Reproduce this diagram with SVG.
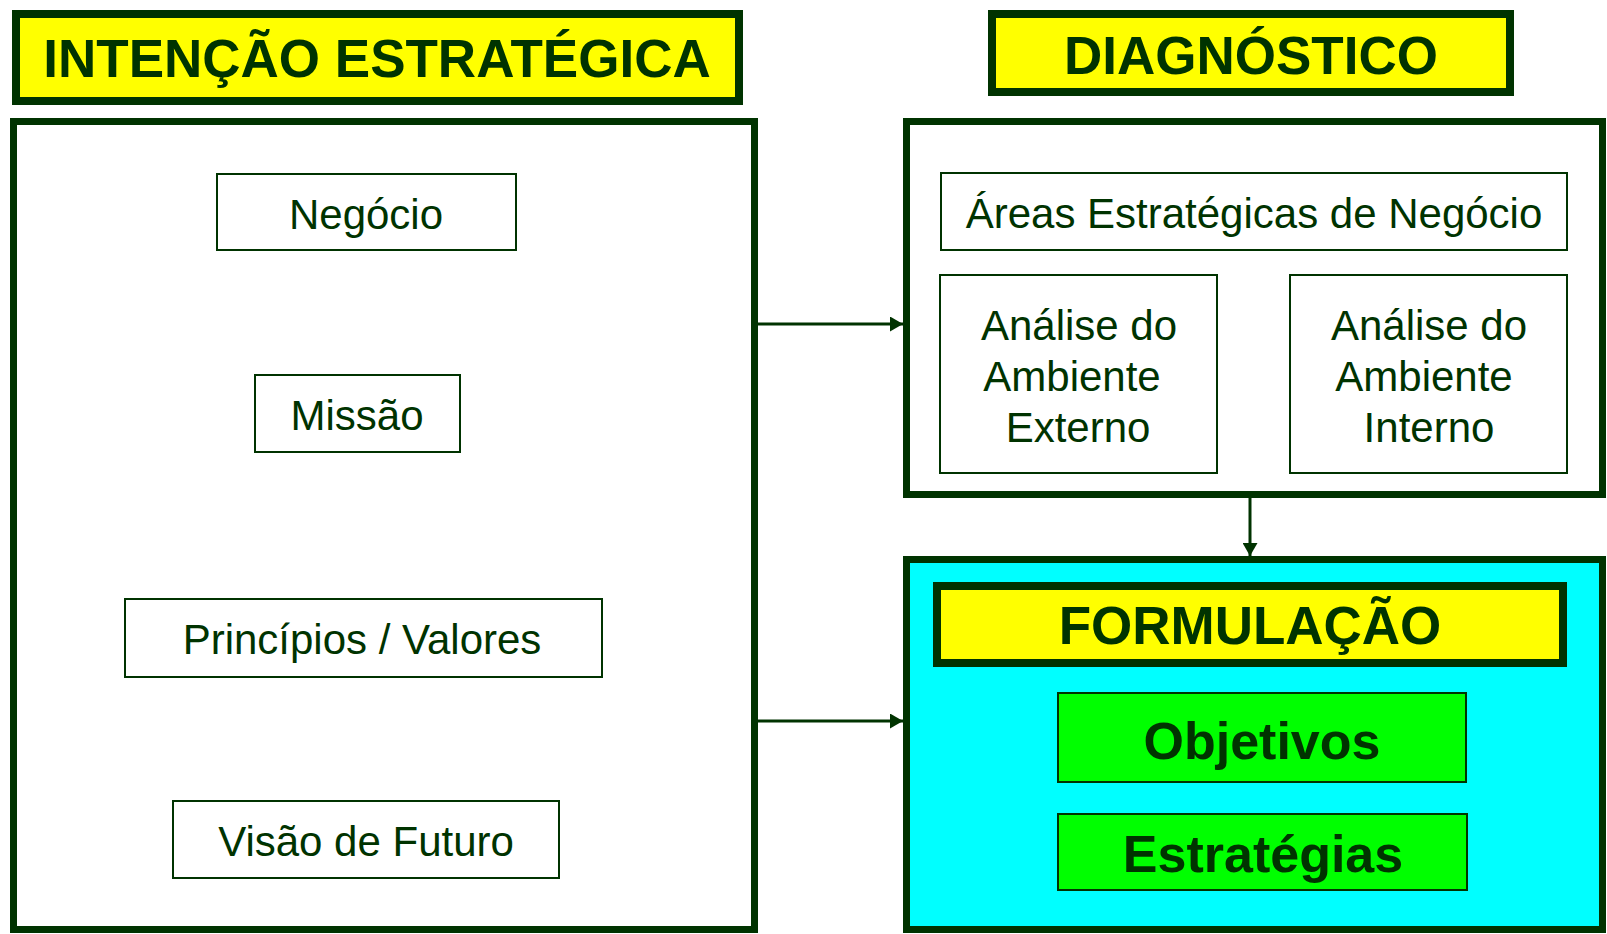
<svg xmlns="http://www.w3.org/2000/svg" width="1607" height="934" viewBox="0 0 1607 934">
<defs>
<style>
.thick{stroke:#003300;stroke-width:8;}
.frame{stroke:#003300;stroke-width:7;}
.thin{fill:#ffffff;stroke:#003300;stroke-width:2;}
.yellow{fill:#ffff00;}
.hdr{font-family:"Liberation Sans",Arial,sans-serif;font-weight:bold;font-size:53px;fill:#003300;text-anchor:middle;}
.lbl{font-family:"Liberation Sans",Arial,sans-serif;font-size:42px;fill:#003300;text-anchor:middle;}
.big{font-family:"Liberation Sans",Arial,sans-serif;font-weight:bold;font-size:52px;fill:#003300;text-anchor:middle;}
.conn{stroke:#003300;stroke-width:3;fill:none;}
</style>
<marker id="arr" markerWidth="13" markerHeight="15" refX="13" refY="7.5" orient="auto" markerUnits="userSpaceOnUse">
<path d="M0,0 L13,7.5 L0,15 Z" fill="#003300"/>
</marker>
</defs>
<rect width="1607" height="934" fill="#ffffff"/>

<g id="intencao-header">
<rect class="thick yellow" x="16" y="14" width="723" height="87"/>
<text class="hdr" x="377" y="77">INTENÇÃO ESTRATÉGICA</text>
</g>
<g id="intencao-box">
<rect class="frame" fill="#ffffff" x="13.5" y="121.5" width="741" height="808"/>
</g>
<g id="negocio">
<rect class="thin" x="217" y="174" width="299" height="76"/>
<text class="lbl" x="366" y="229">Negócio</text>
</g>
<g id="missao">
<rect class="thin" x="255" y="375" width="205" height="77"/>
<text class="lbl" x="357" y="430">Missão</text>
</g>
<g id="principios">
<rect class="thin" x="125" y="599" width="477" height="78"/>
<text class="lbl" x="362" y="654">Princípios / Valores</text>
</g>
<g id="visao">
<rect class="thin" x="173" y="801" width="386" height="77"/>
<text class="lbl" x="366" y="856">Visão de Futuro</text>
</g>

<g id="diagnostico-header">
<rect class="thick yellow" x="992" y="14" width="518" height="78"/>
<text class="hdr" x="1251" y="74">DIAGNÓSTICO</text>
</g>
<g id="diagnostico-box">
<rect class="frame" fill="#ffffff" x="906.5" y="121.5" width="696" height="373"/>
</g>
<g id="areas">
<rect class="thin" x="941" y="173" width="626" height="77"/>
<text class="lbl" x="1254" y="228">Áreas Estratégicas de Negócio</text>
</g>
<g id="externo">
<rect class="thin" x="940" y="275" width="277" height="198"/>
<text class="lbl" x="1079" y="340">Análise do</text>
<text class="lbl" x="1072" y="391">Ambiente</text>
<text class="lbl" x="1078" y="442">Externo</text>
</g>
<g id="interno">
<rect class="thin" x="1290" y="275" width="277" height="198"/>
<text class="lbl" x="1429" y="340">Análise do</text>
<text class="lbl" x="1424" y="391">Ambiente</text>
<text class="lbl" x="1429" y="442">Interno</text>
</g>

<g id="formulacao-box">
<rect class="frame" fill="#00ffff" x="906.5" y="559.5" width="696" height="370"/>
</g>
<g id="formulacao-header">
<rect class="thick yellow" x="937" y="586" width="626" height="77"/>
<text class="hdr" x="1250" y="644">FORMULAÇÃO</text>
</g>
<g id="objetivos">
<rect x="1058" y="693" width="408" height="89" fill="#00ff00" stroke="#003300" stroke-width="2"/>
<text class="big" x="1262" y="759">Objetivos</text>
</g>
<g id="estrategias">
<rect x="1058" y="814" width="409" height="76" fill="#00ff00" stroke="#003300" stroke-width="2"/>
<text class="big" x="1263" y="872">Estratégias</text>
</g>

<g id="connectors">
<line class="conn" x1="758" y1="324" x2="903" y2="324" marker-end="url(#arr)"/>
<line class="conn" x1="758" y1="721" x2="903" y2="721" marker-end="url(#arr)"/>
<line class="conn" x1="1250" y1="498" x2="1250" y2="556" marker-end="url(#arr)"/>
</g>
</svg>
